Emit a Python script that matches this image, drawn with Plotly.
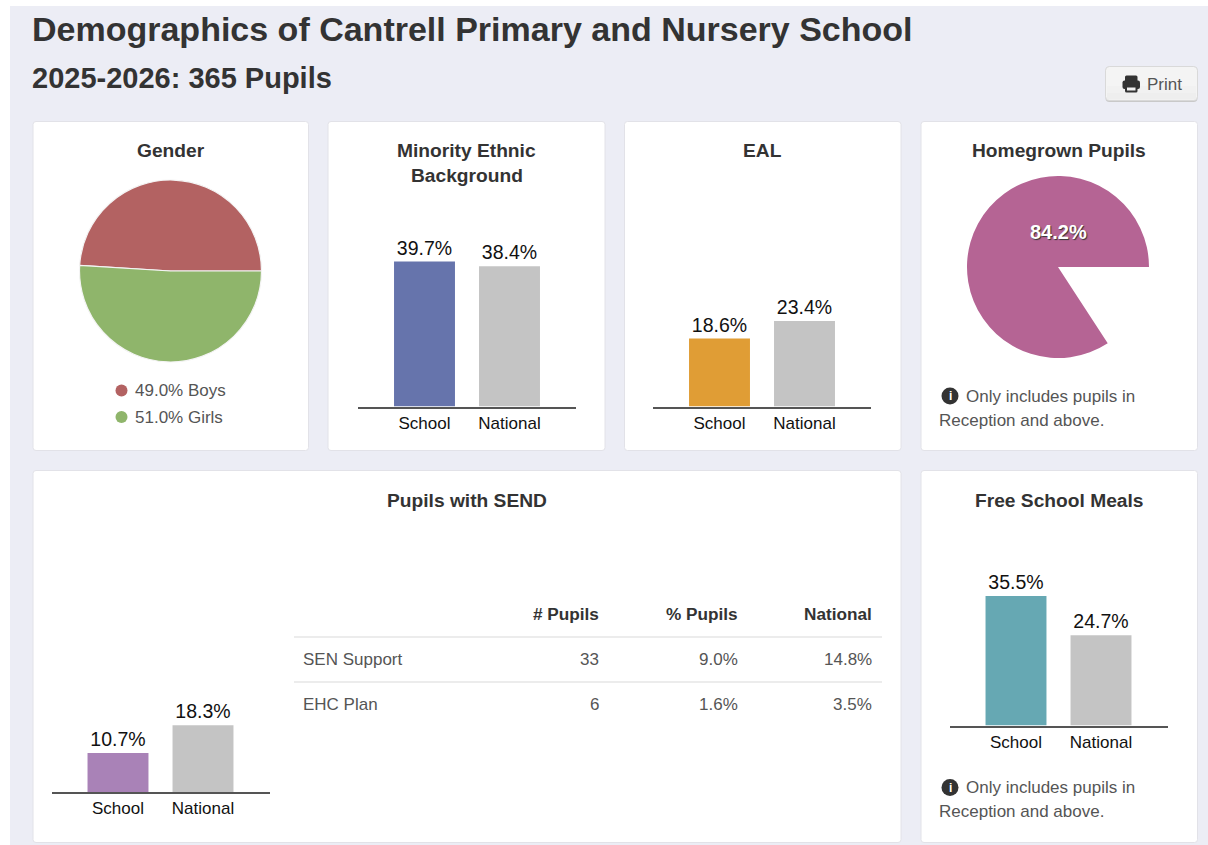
import plotly.graph_objects as go

W, H = 1208, 845
FONT = "Liberation Sans, Arial, sans-serif"
INK = "#333333"
MUTED = "#555555"

# Survey figures
year_label = "2025-2026"
pupil_total = 365
bar_categories = ["School", "National"]

gender_names = ["Boys", "Girls"]
gender_values = [49.0, 51.0]
homegrown_values = [84.2, 15.8]

minority_values = [39.7, 38.4]
eal_values = [18.6, 23.4]
send_values = [10.7, 18.3]
meals_values = [35.5, 24.7]

table_header = ["", "# Pupils", "% Pupils", "National"]
table_groups = ["SEN Support", "EHC Plan"]
table_pupils = [33, 6]
table_percent = [9.0, 1.6]
table_national = [14.8, 3.5]

# Colours
PAGE = "#ecedf5"
CARD_EDGE = "#e2e2e8"
BOYS = "#b36262"
GIRLS = "#8fb56b"
HOMEGROWN = "#b56494"
NATIONAL = "#c4c4c4"
MINORITY = "#6674ac"
EAL = "#e09d35"
SEND = "#a982b7"
MEALS = "#66a8b3"

PX_PER_POINT = 3.65
AXIS_TOP_VALUE = 45


def fx(x):
    return x / W


def fy(y):
    return 1 - y / H


def rounded(x0, y0, x1, y1, r):
    a, b, c, d = fx(x0), fy(y0), fx(x1), fy(y1)
    rx, ry = r / W, r / H
    return (
        f"M{a + rx},{b} L{c - rx},{b} Q{c},{b} {c},{b - ry} L{c},{d + ry} Q{c},{d} {c - rx},{d} "
        f"L{a + rx},{d} Q{a},{d} {a},{d + ry} L{a},{b - ry} Q{a},{b} {a + rx},{b} Z"
    )


shapes = []
annotations = []


def rect(x0, y0, x1, y1, fill, line=None, width=0):
    shapes.append(dict(type="rect", xref="paper", yref="paper", layer="below",
                       x0=fx(x0), x1=fx(x1), y0=fy(y0), y1=fy(y1), fillcolor=fill,
                       line=dict(color=line or fill, width=width)))


def path(d, fill, line=None, width=0):
    shapes.append(dict(type="path", xref="paper", yref="paper", layer="below", path=d,
                       fillcolor=fill, line=dict(color=line or fill, width=width)))


def dot(cx, cy, r, fill, layer="below"):
    shapes.append(dict(type="circle", xref="paper", yref="paper", layer=layer,
                       x0=fx(cx - r), x1=fx(cx + r), y0=fy(cy - r), y1=fy(cy + r),
                       fillcolor=fill, line=dict(width=0)))


def label(x, y, text, size=16, color=MUTED, anchor="center", bold=False, shadow=None):
    font = dict(family=FONT, size=size, color=color, weight=700 if bold else 400)
    if shadow:
        font["shadow"] = shadow
    annotations.append(dict(xref="paper", yref="paper", x=fx(x), y=fy(y), text=text, showarrow=False,
                            xanchor=anchor, yanchor="middle", font=font, borderpad=0, borderwidth=0))


def card(x0, y0, x1, y1):
    path(rounded(x0, y0, x1, y1, 3), "#ffffff", CARD_EDGE, 1)


# Page and panels
rect(10, 6, 1208, 845, PAGE)
card(33, 121.5, 308.5, 450.5)
card(328, 121.5, 605, 450.5)
card(624.5, 121.5, 901, 450.5)
card(921, 121.5, 1197.5, 450.5)
card(33, 470.5, 901, 842.5)
card(921, 470.5, 1197.5, 842.5)

label(32, 28.5, "Demographics of Cantrell Primary and Nursery School", size=34, color=INK, anchor="left", bold=True)
label(32, 78, f"{year_label}: {pupil_total} Pupils", size=29, color=INK, anchor="left", bold=True)

for cx, y, text in [
    (170.5, 151, "Gender"),
    (466.5, 151, "Minority Ethnic"),
    (466.5, 175.5, "Background"),
    (762.5, 151, "EAL"),
    (1058.5, 151, "Homegrown Pupils"),
    (466.5, 500.5, "Pupils with SEND"),
    (1058.5, 500.5, "Free School Meals"),
]:
    label(cx, y, text, size=19.2, color=INK, bold=True)

# Print button with a soft vertical sheen
path(rounded(1105.5, 66.5, 1197.5, 102, 4), "#c9c9c9")
path(rounded(1105.5, 66.5, 1197.5, 100.5, 4), "#f4f4f4", "#d9d9d9", 1)
rect(1107, 86, 1196, 93, "#f1f1f1")
rect(1107, 93, 1196, 99.5, "#eeeeee")
path(rounded(1125, 75.5, 1137.5, 82, 1.5), "#333333")
path(rounded(1122.5, 80.5, 1140, 89, 2), "#333333")
path(rounded(1125, 86, 1137.5, 92.5, 1.5), "#333333")
rect(1127, 87.5, 1135.5, 90.5, "#f1f1f1")
label(1147, 84, "Print", size=17, anchor="left")

# Gender legend
for cy, colour, name, value in zip([390.5, 417], [BOYS, GIRLS], gender_names, gender_values):
    dot(121.5, cy, 6, colour)
    label(135, cy, f"{value:.1f}% {name}", size=17, anchor="left")


def info_note(y):
    dot(950, y, 8.5, "#333333")
    label(950, y, "i", size=12, color="#ffffff", bold=True)
    label(966, y, "Only includes pupils in", size=17, anchor="left")
    label(939, y + 24, "Reception and above.", size=17, anchor="left")


info_note(396)
info_note(787.5)

# SEND table
for y in [637, 682]:
    rect(294, y - 0.8, 882, y + 0.8, "#e6e6e6")
for x, text in zip([598.5, 738, 872], table_header[1:]):
    label(x, 614, text, size=17.2, color=INK, anchor="right", bold=True)
for i, y in enumerate([659.5, 704.5]):
    label(303, y, table_groups[i], size=17, anchor="left")
    label(598.5, y, f"{table_pupils[i]}", size=17, anchor="right")
    label(738, y, f"{table_percent[i]:.1f}%", size=17, anchor="right")
    label(872, y, f"{table_national[i]:.1f}%", size=17, anchor="right")

fig = go.Figure()


def east_start(share):
    """Rotation that ends a clockwise sweep of this share exactly at three o'clock."""
    return 90 - share * 3.6


# Pie charts: the first slice finishes at three o'clock
fig.add_trace(go.Pie(
    labels=gender_names, values=gender_values, sort=False, direction="clockwise",
    rotation=east_start(gender_values[0]),
    marker=dict(colors=[BOYS, GIRLS], line=dict(color="#f4f4f4", width=1.2)), textinfo="none",
    domain=dict(x=[fx(79.5), fx(261.5)], y=[fy(362), fy(180)]), showlegend=False,
))
fig.add_trace(go.Pie(
    labels=["Homegrown", "Other"], values=homegrown_values, sort=False, direction="clockwise",
    rotation=east_start(homegrown_values[0]),
    marker=dict(colors=[HOMEGROWN, "rgba(0,0,0,0)"], line=dict(width=0)), textinfo="none",
    domain=dict(x=[fx(967), fx(1149)], y=[fy(358), fy(176)]), showlegend=False,
))
label(1058.5, 231.5, f"{homegrown_values[0]:.1f}%", size=20, color="#ffffff", bold=True,
      shadow="1px 1px 1px #333333")

# School versus national bar panels
panels = [
    (minority_values, MINORITY, 358, 406.5),
    (eal_values, EAL, 653, 406.5),
    (send_values, SEND, 51.5, 792),
    (meals_values, MEALS, 949.5, 725.5),
]
layout_axes = {}
for n, (values, colour, left, base) in enumerate(panels, start=1):
    suffix = "" if n == 1 else str(n)
    fig.add_trace(go.Bar(
        x=bar_categories, y=values, marker=dict(color=[colour, NATIONAL], line=dict(width=0)),
        text=[f"{v:.1f}%" for v in values], textposition="outside", cliponaxis=False,
        textfont=dict(family=FONT, size=19.5, color="#111111"), width=0.717,
        xaxis=f"x{suffix}", yaxis=f"y{suffix}", showlegend=False,
    ))
    layout_axes[f"xaxis{suffix}"] = dict(
        domain=[fx(left), fx(left + 218)], range=[-66.5 / 85, (218 - 66.5) / 85], type="category",
        anchor=f"y{suffix}", showgrid=False, zeroline=False, showline=True, linecolor="#555555", linewidth=2,
        ticks="", ticklen=0,
        tickfont=dict(family=FONT, size=17, color="#111111"), fixedrange=True,
    )
    layout_axes[f"yaxis{suffix}"] = dict(
        domain=[fy(base), fy(base - AXIS_TOP_VALUE * PX_PER_POINT)], range=[0, AXIS_TOP_VALUE],
        anchor=f"x{suffix}", visible=False, fixedrange=True,
    )

fig.update_layout(
    width=W, height=H, margin=dict(l=0, r=0, t=0, b=0), autosize=False,
    paper_bgcolor="#ffffff", plot_bgcolor="rgba(0,0,0,0)", showlegend=False,
    shapes=shapes, annotations=annotations, font=dict(family=FONT), **layout_axes,
)

fig.write_html("out.html", config=dict(displayModeBar=False))
